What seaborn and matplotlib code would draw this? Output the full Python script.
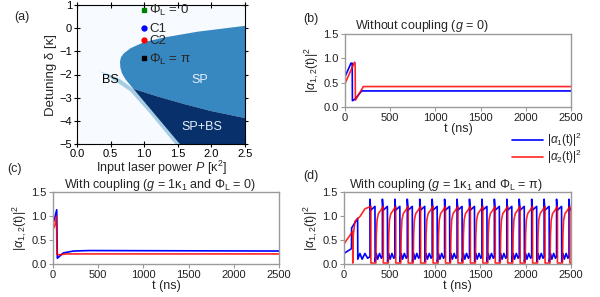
import matplotlib
matplotlib.use("Agg")
import matplotlib.pyplot as plt
import seaborn as sns
import pandas as pd

# ---- (a) phase diagram: region outlines in (P [k^2], delta [k]) ----
sp_P = [0.64, 0.655, 0.7, 0.8, 1.0, 1.3, 1.8, 2.5,
        2.5, 2.0, 1.6, 1.2, 0.84, 0.79, 0.72, 0.67, 0.645]
sp_delta = [-1.45, -1.25, -1.08, -0.86, -0.6, -0.4, -0.15, 0.1,
            -3.88, -3.58, -3.28, -2.95, -2.62, -2.45, -2.2, -1.95, -1.7]
spbs_P = [0.84, 1.2, 1.6, 2.0, 2.5, 2.5, 1.53]
spbs_delta = [-2.62, -2.95, -3.28, -3.58, -3.88, -5.0, -5.0]
bs_P = [0.34, 0.5, 0.64, 0.84, 1.55, 1.46, 1.1, 0.79, 0.55]
bs_delta = [-1.86, -2.02, -2.2, -2.62, -5.0, -5.0, -3.73, -2.72, -2.25]

marker_P = [1.0, 1.0, 1.0, 1.0]
marker_delta = [0.8, 0.0, -0.5, -1.3]
marker_labels = [r"$\mathit{\Phi}_{\mathrm{L}}$ = 0", "C1", "C2", r"$\mathit{\Phi}_{\mathrm{L}}$ = π"]
marker_colors = ["green", "blue", "red", "black"]
marker_shapes = ["s", "o", "o", "s"]

# ---- (b) without coupling ----
b_blue_t = [0, 0, 66, 80, 82, 110, 184, 2500]
b_blue_v = [0, 0.62, 0.9, 0.9, 0.13, 0.16, 0.33, 0.33]
b_red_t = [0, 0, 105, 112, 115, 203, 2500]
b_red_v = [0, 0.48, 0.92, 0.9, 0.14, 0.42, 0.42]

# ---- (c) coupling, phi = 0 ----
c_blue_t = [0, 0, 19, 41, 48, 114, 225, 400, 2500]
c_blue_v = [0, 0.85, 0.96, 1.13, 0.12, 0.23, 0.27, 0.28, 0.27]
c_red_t = [0, 0, 20, 38, 44, 60, 150, 2500]
c_red_v = [0, 0.72, 0.8, 1.0, 0.2, 0.19, 0.21, 0.21]

# ---- (d) coupling, phi = pi (one row per oscillation) ----
d_blue_t = [0, 0, 82, 84, 150, 152, 175, 200, 230, 260,
            286, 286, 294, 341, 343, 356, 371, 391, 411,
            423, 423, 431, 478, 480, 493, 508, 528, 548,
            560, 560, 568, 615, 617, 630, 645, 665, 685,
            697, 697, 705, 752, 754, 767, 782, 802, 822,
            834, 834, 842, 889, 891, 904, 919, 939, 959,
            971, 971, 979, 1026, 1028, 1041, 1056, 1076, 1096,
            1108, 1108, 1116, 1163, 1165, 1178, 1193, 1213, 1233,
            1245, 1245, 1253, 1300, 1302, 1315, 1330, 1350, 1370,
            1382, 1382, 1390, 1437, 1439, 1452, 1467, 1487, 1507,
            1519, 1519, 1527, 1574, 1576, 1589, 1604, 1624, 1644,
            1656, 1656, 1664, 1711, 1713, 1726, 1741, 1761, 1781,
            1793, 1793, 1801, 1848, 1850, 1863, 1878, 1898, 1918,
            1930, 1930, 1938, 1985, 1987, 2000, 2015, 2035, 2055,
            2067, 2067, 2075, 2122, 2124, 2137, 2152, 2172, 2192,
            2204, 2204, 2212, 2259, 2261, 2274, 2289, 2309, 2329,
            2341, 2341, 2349, 2396, 2398, 2411, 2426, 2446, 2466,
            2478, 2478, 2486, 2500]
d_blue_v = [0, 0.22, 0.32, 0.75, 0.95, 0.1, 0.22, 0.1, 0.22, 0.12,
            0.15, 1.35, 1.12, 1.2, 0.05, 0.22, 0.1, 0.22, 0.12,
            0.15, 1.35, 1.12, 1.2, 0.05, 0.22, 0.1, 0.22, 0.12,
            0.15, 1.35, 1.12, 1.2, 0.05, 0.22, 0.1, 0.22, 0.12,
            0.15, 1.35, 1.12, 1.2, 0.05, 0.22, 0.1, 0.22, 0.12,
            0.15, 1.35, 1.12, 1.2, 0.05, 0.22, 0.1, 0.22, 0.12,
            0.15, 1.35, 1.12, 1.2, 0.05, 0.22, 0.1, 0.22, 0.12,
            0.15, 1.35, 1.12, 1.2, 0.05, 0.22, 0.1, 0.22, 0.12,
            0.15, 1.35, 1.12, 1.2, 0.05, 0.22, 0.1, 0.22, 0.12,
            0.15, 1.35, 1.12, 1.2, 0.05, 0.22, 0.1, 0.22, 0.12,
            0.15, 1.35, 1.12, 1.2, 0.05, 0.22, 0.1, 0.22, 0.12,
            0.15, 1.35, 1.12, 1.2, 0.05, 0.22, 0.1, 0.22, 0.12,
            0.15, 1.35, 1.12, 1.2, 0.05, 0.22, 0.1, 0.22, 0.12,
            0.15, 1.35, 1.12, 1.2, 0.05, 0.22, 0.1, 0.22, 0.12,
            0.15, 1.35, 1.12, 1.2, 0.05, 0.22, 0.1, 0.22, 0.12,
            0.15, 1.35, 1.12, 1.2, 0.05, 0.22, 0.1, 0.22, 0.12,
            0.15, 1.35, 1.12, 1.2, 0.05, 0.22, 0.1, 0.22, 0.12,
            0.15, 1.35, 1.12, 1.15]
d_red_t = [0, 0, 95, 97, 102, 121, 176, 231,
           296, 296, 351, 356, 364, 379, 409,
           433, 433, 488, 493, 501, 516, 546,
           570, 570, 625, 630, 638, 653, 683,
           707, 707, 762, 767, 775, 790, 820,
           844, 844, 899, 904, 912, 927, 957,
           981, 981, 1036, 1041, 1049, 1064, 1094,
           1118, 1118, 1173, 1178, 1186, 1201, 1231,
           1255, 1255, 1310, 1315, 1323, 1338, 1368,
           1392, 1392, 1447, 1452, 1460, 1475, 1505,
           1529, 1529, 1584, 1589, 1597, 1612, 1642,
           1666, 1666, 1721, 1726, 1734, 1749, 1779,
           1803, 1803, 1858, 1863, 1871, 1886, 1916,
           1940, 1940, 1995, 2000, 2008, 2023, 2053,
           2077, 2077, 2132, 2137, 2145, 2160, 2190,
           2214, 2214, 2269, 2274, 2282, 2297, 2327,
           2351, 2351, 2406, 2411, 2419, 2434, 2464,
           2488, 2488, 2500]
d_red_v = [0, 0.42, 0.68, 0.02, 0.6, 0.89, 0.99, 1.15,
           1.2, 0.02, 0.02, 0.6, 0.92, 1.05, 1.13,
           1.2, 0.02, 0.02, 0.6, 0.92, 1.05, 1.13,
           1.2, 0.02, 0.02, 0.6, 0.92, 1.05, 1.13,
           1.2, 0.02, 0.02, 0.6, 0.92, 1.05, 1.13,
           1.2, 0.02, 0.02, 0.6, 0.92, 1.05, 1.13,
           1.2, 0.02, 0.02, 0.6, 0.92, 1.05, 1.13,
           1.2, 0.02, 0.02, 0.6, 0.92, 1.05, 1.13,
           1.2, 0.02, 0.02, 0.6, 0.92, 1.05, 1.13,
           1.2, 0.02, 0.02, 0.6, 0.92, 1.05, 1.13,
           1.2, 0.02, 0.02, 0.6, 0.92, 1.05, 1.13,
           1.2, 0.02, 0.02, 0.6, 0.92, 1.05, 1.13,
           1.2, 0.02, 0.02, 0.6, 0.92, 1.05, 1.13,
           1.2, 0.02, 0.02, 0.6, 0.92, 1.05, 1.13,
           1.2, 0.02, 0.02, 0.6, 0.92, 1.05, 1.13,
           1.2, 0.02, 0.02, 0.6, 0.92, 1.05, 1.13,
           1.2, 0.02, 0.02, 0.6, 0.92, 1.05, 1.13,
           1.2, 0.02, 0.02]

W, H = 600, 297


def rect(x0, y0, x1, y1):
    # pixel box -> figure fraction
    return [x0 / W, 1 - y1 / H, (x1 - x0) / W, (y1 - y0) / H]


sns.set_theme(style="ticks")
plt.rcParams["font.family"] = ["Liberation Sans", "DejaVu Sans"]
plt.rcParams["mathtext.fontset"] = "custom"
plt.rcParams["mathtext.rm"] = "Liberation Sans"
plt.rcParams["mathtext.it"] = "Liberation Sans:italic"
plt.rcParams["mathtext.bf"] = "Liberation Sans:bold"

fig = plt.figure(figsize=(6, 2.97), dpi=100)

# ---------------- (a) ----------------
ax_a = fig.add_axes(rect(77, 5, 245, 144))
ax_a.set_facecolor("#f7fbff")
ax_a.fill(bs_P, bs_delta, color="#a6cde4", lw=0)
ax_a.fill(sp_P, sp_delta, color="#3787c0", lw=0)
ax_a.fill(spbs_P, spbs_delta, color="#08306b", lw=0)
for p, d, lab, c, m in zip(marker_P, marker_delta, marker_labels, marker_colors, marker_shapes):
    ax_a.plot(p, d, marker=m, color=c, ms=3.5, ls="none")
    ax_a.text(p + 0.07, d - 0.05, lab, fontsize=9.5, va="center", ha="left")
ax_a.text(0.49, -2.25, "BS", fontsize=9, ha="center", va="center", color="black")
ax_a.text(1.82, -2.25, "SP", fontsize=9, ha="center", va="center", color="#e8f1fa")
ax_a.text(1.86, -4.25, "SP+BS", fontsize=9, ha="center", va="center", color="#e8f1fa")
ax_a.set_xlim(0, 2.5)
ax_a.set_ylim(-5, 1)
ax_a.set_xticks([0, 0.5, 1.0, 1.5, 2.0, 2.5])
ax_a.set_yticks([-5, -4, -3, -2, -1, 0, 1])
ax_a.tick_params(top=True, right=True, direction="inout", length=4, width=0.8,
                 labelsize=8, pad=1.5, colors="black")
for s in ax_a.spines.values():
    s.set_color("black")
    s.set_linewidth(0.8)
ax_a.set_xlabel(r"Input laser power $\mathit{P}$ [κ$^2$]", fontsize=9, labelpad=0)
ax_a.set_ylabel("Detuning δ [κ]", fontsize=9.5, labelpad=2)
fig.text(22 / W, 1 - 17 / H, "(a)", fontsize=9, ha="center", va="center")


def series_panel(box, bt, bv, rt, rv, title, title_x, title_y, label, label_xy):
    ax = fig.add_axes(rect(*box))
    df_b = pd.DataFrame({"t": bt, "v": bv})
    df_r = pd.DataFrame({"t": rt, "v": rv})
    sns.lineplot(data=df_b, x="t", y="v", ax=ax, color="blue", lw=1.2,
                 estimator=None, sort=False, label=r"|$\alpha_1$(t)|$^2$")
    sns.lineplot(data=df_r, x="t", y="v", ax=ax, color="red", lw=1.2, alpha=0.85,
                 estimator=None, sort=False, label=r"|$\alpha_2$(t)|$^2$")
    ax.set_xlim(0, 2500)
    ax.set_ylim(0, 1.5)
    ax.set_xticks([0, 500, 1000, 1500, 2000, 2500])
    ax.set_yticks([0, 0.5, 1.0, 1.5])
    ax.set_yticklabels(["0.0", "0.5", "1.0", "1.5"])
    for s in ax.spines.values():
        s.set_visible(True)
        s.set_color("#9a9a9a")
        s.set_linewidth(1.0)
    ax.tick_params(direction="out", length=3, width=0.8, labelsize=8, pad=1.5,
                   colors="#9a9a9a", labelcolor="#222222")
    ax.set_xlabel("t (ns)", fontsize=9, labelpad=0)
    ax.set_ylabel(r"|$\alpha_{1,2}$(t)|$^2$", fontsize=9, labelpad=2)
    ax.legend_.remove()
    fig.text(title_x / W, 1 - title_y / H, title, fontsize=9, ha="center", va="center")
    fig.text(label_xy[0] / W, 1 - label_xy[1] / H, label, fontsize=9, ha="center", va="center")
    return ax


ax_b = series_panel((345, 34, 571, 107), b_blue_t, b_blue_v, b_red_t, b_red_v,
                    r"Without coupling ($\mathit{g}$ = 0)", 422, 26, "(b)", (311, 19))
ax_c = series_panel((53, 192, 279, 264), c_blue_t, c_blue_v, c_red_t, c_red_v,
                    r"With coupling ($\mathit{g}$ = 1κ$_1$ and $\mathit{\Phi}_{\mathrm{L}}$ = 0)",
                    160, 185, "(c)", (15, 169))
ax_d = series_panel((344, 192, 571, 264), d_blue_t, d_blue_v, d_red_t, d_red_v,
                    r"With coupling ($\mathit{g}$ = 1κ$_1$ and $\mathit{\Phi}_{\mathrm{L}}$ = π)",
                    446, 185, "(d)", (311, 176))

handles, labels = ax_b.get_legend_handles_labels()
fig.legend(handles, labels, loc="upper left", bbox_to_anchor=(512 / W, 1 - 131 / H),
           frameon=False, fontsize=8.5, handlelength=2.6, labelspacing=-0.1,
           handletextpad=0.4, borderpad=0, borderaxespad=0)

fig.savefig("out.png", dpi=100)
